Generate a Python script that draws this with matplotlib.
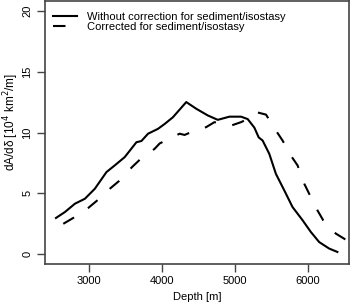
import matplotlib.pyplot as plt

plt.rcParams["font.family"] = ["Liberation Sans", "DejaVu Sans"]

# =====================================================
# DATA
# =====================================================

depth_raw = [2550, 2673, 2809, 2946, 3082, 3241, 3355, 3491, 3651, 3719,
             3810, 3946, 4037, 4150, 4333, 4470, 4628, 4764, 4924, 5083,
             5174, 5265, 5324, 5378, 5469, 5560, 5674, 5787, 5924, 6038,
             6152, 6288, 6401]
dA_raw = [2.98, 3.47, 4.15, 4.56, 5.38, 6.75, 7.30, 7.98, 9.20, 9.30,
          9.90, 10.30, 10.70, 11.25, 12.50, 11.95, 11.40, 11.04, 11.30, 11.30,
          11.10, 10.40, 9.60, 9.34, 8.25, 6.60, 5.25, 3.88, 2.80, 1.83,
          1.00, 0.47, 0.19]

depth_corr = [2650, 2786, 2991, 3105, 3287, 3410, 3591, 3696, 3900, 3969,
              4242, 4310, 4369, 4605, 4719, 4947, 5083, 5200, 5300, 5424,
              5560, 5651, 5765, 5856, 5947, 6015, 6129, 6206, 6379, 6515]
dA_corr = [2.50, 2.98, 3.80, 4.37, 5.38, 6.00, 7.16, 7.76, 8.66, 9.10,
           9.90, 9.80, 9.95, 10.44, 10.85, 10.57, 10.85, 11.20, 11.66, 11.47,
           10.16, 9.34, 8.10, 7.30, 5.80, 4.97, 3.60, 2.80, 1.70, 1.20]

x_ticks = [3000, 4000, 5000, 6000]
y_ticks = [0, 5, 10, 15, 20]

# =====================================================
# PLOT
# =====================================================

fig = plt.figure(figsize=(3.52, 3.05), dpi=100)
ax = fig.add_axes([45 / 352, 41 / 305, 304 / 352, 263 / 305])

ax.plot(depth_raw, dA_raw, color="black", linewidth=1.5,
        label="Without correction for sediment/isostasy")
ax.plot(depth_corr, dA_corr, color="black", linewidth=1.5,
        dashes=(6, 8), label="Corrected for sediment/isostasy")

ax.set_xlim(2400, 6560)
ax.set_ylim(-0.8, 20.8)
ax.set_xticks(x_ticks)
ax.set_yticks(y_ticks)

for spine in ax.spines.values():
    spine.set_color("#444444")
    spine.set_linewidth(1.2)

ax.tick_params(direction="out", length=5.5, width=1, color="#444444",
               labelsize=8, pad=3.5)
plt.setp(ax.get_yticklabels(), rotation=90, va="center")

ax.set_xlabel("Depth [m]", fontsize=8, labelpad=4)
ax.set_ylabel("dA/dδ [10$^4$ km$^2$/m]", fontsize=8.5)
ax.yaxis.set_label_coords(-0.078, 0.54)

ax.legend(loc="upper left", frameon=False, fontsize=8,
          handlelength=2.15, handletextpad=0.9, labelspacing=0.05,
          borderpad=0, borderaxespad=0, bbox_to_anchor=(0.026, 0.96))

fig.savefig("out.png", dpi=100)
